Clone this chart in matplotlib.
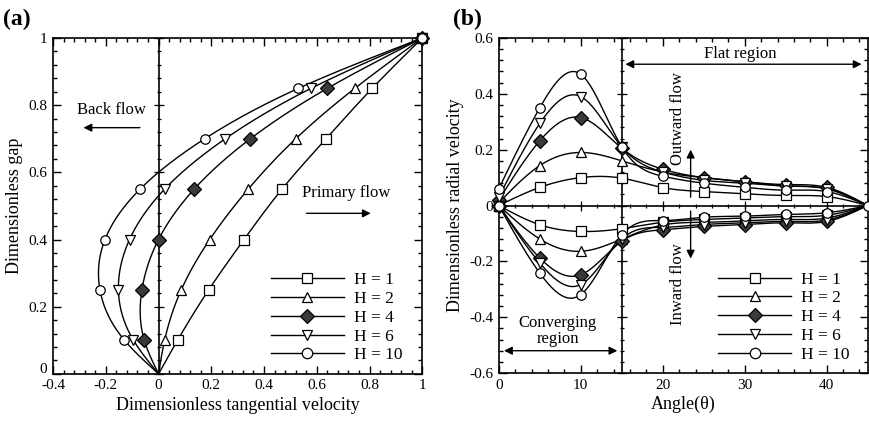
import numpy as np
import matplotlib
matplotlib.use("Agg")
import matplotlib.pyplot as plt
from matplotlib.ticker import MultipleLocator

plt.rcParams['font.family'] = ['Liberation Serif', 'DejaVu Serif']
plt.rcParams['mathtext.fontset'] = 'stix'

# ---- data: panel (a) tangential velocity profiles ----
gap = [0.0, 0.1, 0.25, 0.4, 0.55, 0.7, 0.85, 1.0]
vt_h1 = [0.0, 0.072, 0.19, 0.324, 0.468, 0.635, 0.81, 1.0]
vt_h2 = [0.0, 0.023, 0.086, 0.194, 0.34, 0.52, 0.744, 1.0]
vt_h4 = [0.0, -0.054, -0.063, 0.0, 0.135, 0.348, 0.64, 1.0]
vt_h6 = [0.0, -0.095, -0.152, -0.11, 0.023, 0.253, 0.578, 1.0]
vt_h10 = [0.0, -0.129, -0.222, -0.203, -0.07, 0.175, 0.53, 1.0]

# ---- data: panel (b) radial velocity vs angle ----
angle = [0, 5, 10, 15, 20, 25, 30, 35, 40, 45]
vr_up_h1 = [0.0, 0.065, 0.10, 0.098, 0.064, 0.05, 0.042, 0.036, 0.032, 0.0]
vr_up_h2 = [0.01, 0.143, 0.19, 0.16, 0.12, 0.10, 0.085, 0.07, 0.06, 0.0]
vr_up_h4 = [0.02, 0.232, 0.315, 0.205, 0.13, 0.10, 0.085, 0.075, 0.065, 0.0]
vr_up_h6 = [0.03, 0.294, 0.39, 0.21, 0.12, 0.09, 0.08, 0.07, 0.06, 0.0]
vr_up_h10 = [0.06, 0.35, 0.47, 0.21, 0.105, 0.08, 0.065, 0.055, 0.05, 0.0]

vr_dn_h1 = [0.0, -0.069, -0.093, -0.083, -0.06, -0.05, -0.045, -0.04, -0.035, 0.0]
vr_dn_h2 = [0.0, -0.12, -0.164, -0.12, -0.07, -0.06, -0.055, -0.05, -0.045, 0.0]
vr_dn_h4 = [0.0, -0.188, -0.248, -0.128, -0.087, -0.075, -0.068, -0.062, -0.057, 0.0]
vr_dn_h6 = [0.0, -0.206, -0.283, -0.12, -0.078, -0.068, -0.062, -0.057, -0.052, 0.0]
vr_dn_h10 = [0.0, -0.242, -0.319, -0.105, -0.054, -0.042, -0.038, -0.032, -0.026, 0.0]

labels = ['H = 1', 'H = 2', 'H = 4', 'H = 6', 'H = 10']
markers = ['s', '^', 'D', 'v', 'o']
faces = ['white', 'white', '#3a3a3a', 'white', 'white']


def spline(t, v, n=200):
    # natural cubic spline through the points, used only to draw the smooth connecting line
    t = np.asarray(t, float)
    v = np.asarray(v, float)
    k = len(t)
    h = np.diff(t)
    A = np.zeros((k, k))
    b = np.zeros(k)
    A[0, 0] = A[-1, -1] = 1
    for i in range(1, k - 1):
        A[i, i - 1] = h[i - 1]
        A[i, i] = 2 * (h[i - 1] + h[i])
        A[i, i + 1] = h[i]
        b[i] = 6 * ((v[i + 1] - v[i]) / h[i] - (v[i] - v[i - 1]) / h[i - 1])
    M = np.linalg.solve(A, b)
    tt = np.linspace(t[0], t[-1], n)
    idx = np.clip(np.searchsorted(t, tt) - 1, 0, k - 2)
    t0, t1 = t[idx], t[idx + 1]
    hh = t1 - t0
    a = (t1 - tt) / hh
    c = (tt - t0) / hh
    vv = (a * v[idx] + c * v[idx + 1]
          + ((a ** 3 - a) * M[idx] + (c ** 3 - c) * M[idx + 1]) * hh ** 2 / 6)
    return tt, vv


def inner_ticks(ax, pos, major, minor, vertical):
    # tick marks drawn along an interior reference line
    for step, size in ((major, 7), (minor, 3.5)):
        vals = np.arange(pos[0], pos[1] + 1e-9, step)
        if vertical:
            ax.plot(np.full_like(vals, pos[2]), vals, ls='none', marker='_',
                    ms=size, mew=0.9, color='black', zorder=2, clip_on=False)
        else:
            ax.plot(vals, np.full_like(vals, pos[2]), ls='none', marker='|',
                    ms=size, mew=0.9, color='black', zorder=2, clip_on=False)


def style_axes(ax):
    ax.tick_params(which='both', direction='in', top=True, right=True,
                   labelsize=11, width=1, pad=4)
    ax.tick_params(which='major', length=6)
    ax.tick_params(which='minor', length=3)
    for s in ax.spines.values():
        s.set_linewidth(1.2)


fig = plt.figure(figsize=(8.69, 4.22), dpi=100)
ax1 = fig.add_axes([0.061, 0.114, 0.425, 0.796])
ax2 = fig.add_axes([0.574, 0.116, 0.4245, 0.794])

# ===== panel (a) =====
series_a = [vt_h1, vt_h2, vt_h4, vt_h6, vt_h10]
for vals, m, fc, lab in zip(series_a, markers, faces, labels):
    yy, xx = spline(gap, vals)
    ax1.plot(xx, yy, color='black', lw=1.0, zorder=3)
    ax1.plot(vals[1:], gap[1:], ls='none', marker=m, ms=6.8, mfc=fc,
             mec='black', mew=0.9, zorder=4, clip_on=False)
    ax1.plot([], [], color='black', lw=1.0, marker=m, ms=7.5, mfc=fc,
             mec='black', mew=0.9, label=lab)

ax1.axvline(0, color='black', lw=1.2, zorder=2)
inner_ticks(ax1, (0, 1, 0), 0.2, 0.04, True)
ax1.set_xlim(-0.4, 1)
ax1.set_ylim(0, 1)
ax1.xaxis.set_major_locator(MultipleLocator(0.2))
ax1.xaxis.set_minor_locator(MultipleLocator(0.04))
ax1.yaxis.set_major_locator(MultipleLocator(0.2))
ax1.yaxis.set_minor_locator(MultipleLocator(0.04))
ax1.xaxis.set_major_formatter(plt.FuncFormatter(lambda v, p: f'{v:g}'))
# the corner "0" is drawn separately, a bit higher, as in the original
ax1.yaxis.set_major_formatter(plt.FuncFormatter(lambda v, p: '' if abs(v) < 1e-9 else f'{v:g}'))
style_axes(ax1)
ax1.text(-0.015, 0.014, '0', transform=ax1.transAxes, ha='right', va='center',
         fontsize=11)
ax1.set_xlabel('Dimensionless tangential velocity', fontsize=13, labelpad=3)
ax1.set_ylabel('Dimensionless gap', fontsize=13, labelpad=4)

ax1.text(-0.177, 0.785, 'Back flow', ha='center', va='center', fontsize=12)
ax1.annotate('', xy=(-0.295, 0.733), xytext=(-0.06, 0.733),
             arrowprops=dict(arrowstyle='-|>', color='black', lw=1.0,
                             mutation_scale=12))
ax1.text(0.71, 0.538, 'Primary flow', ha='center', va='center', fontsize=12)
ax1.annotate('', xy=(0.815, 0.478), xytext=(0.55, 0.478),
             arrowprops=dict(arrowstyle='-|>', color='black', lw=1.0,
                             mutation_scale=12))

leg_kw = dict(loc='lower right', frameon=False, fontsize=12.5,
              handlelength=4.2, labelspacing=0.15, handletextpad=0.6,
              borderaxespad=0.2)
ax1.legend(bbox_to_anchor=(0.975, 0.0), **leg_kw)

# ===== panel (b) =====
series_up = [vr_up_h1, vr_up_h2, vr_up_h4, vr_up_h6, vr_up_h10]
series_dn = [vr_dn_h1, vr_dn_h2, vr_dn_h4, vr_dn_h6, vr_dn_h10]
for up, dn, m, fc, lab in zip(series_up, series_dn, markers, faces, labels):
    for vals in (up, dn):
        xx, yy = spline(angle, vals, 400)
        ax2.plot(xx, yy, color='black', lw=1.0, zorder=3)
        ax2.plot(angle[:-1], vals[:-1], ls='none', marker=m, ms=6.8, mfc=fc,
                 mec='black', mew=0.9, zorder=4, clip_on=False)
    ax2.plot([], [], color='black', lw=1.0, marker=m, ms=7.5, mfc=fc,
             mec='black', mew=0.9, label=lab)
ax2.plot([45], [0], ls='none', marker='o', ms=6.8, mfc='white', mec='black',
         mew=0.9, zorder=4, clip_on=False)

ax2.axvline(15, color='black', lw=1.2, zorder=2)
ax2.axhline(0, color='black', lw=1.2, zorder=2)
inner_ticks(ax2, (0, 45, 0), 10, 2, False)
inner_ticks(ax2, (-0.6, 0.6, 15), 0.2, 0.04, True)
ax2.set_xlim(0, 45)
ax2.set_ylim(-0.6, 0.6)
ax2.xaxis.set_major_locator(MultipleLocator(10))
ax2.xaxis.set_minor_locator(MultipleLocator(2))
ax2.yaxis.set_major_locator(MultipleLocator(0.2))
ax2.yaxis.set_minor_locator(MultipleLocator(0.04))
ax2.xaxis.set_major_formatter(plt.FuncFormatter(lambda v, p: f'{v:g}'))
ax2.yaxis.set_major_formatter(plt.FuncFormatter(lambda v, p: f'{v:g}'))
style_axes(ax2)
ax2.set_xlabel('Angle(θ)', fontsize=13, labelpad=3)
ax2.set_ylabel('Dimensionless radial velocity', fontsize=13, labelpad=4)

ax2.text(29.4, 0.544, 'Flat region', ha='center', va='center', fontsize=12)
ax2.annotate('', xy=(44.6, 0.506), xytext=(15.1, 0.506),
             arrowprops=dict(arrowstyle='<|-|>', color='black', lw=1.0,
                             mutation_scale=12))
ax2.text(7.2, -0.45, 'Converging\nregion', ha='center', va='center',
         fontsize=12, linespacing=1.0)
ax2.annotate('', xy=(14.8, -0.52), xytext=(0.3, -0.52),
             arrowprops=dict(arrowstyle='<|-|>', color='black', lw=1.0,
                             mutation_scale=12))
ax2.text(21.9, 0.31, 'Outward flow', ha='center', va='center', fontsize=12,
         rotation=90)
ax2.annotate('', xy=(23.4, 0.21), xytext=(23.4, 0.02),
             arrowprops=dict(arrowstyle='-|>', color='black', lw=1.0,
                             mutation_scale=12))
ax2.text(21.9, -0.28, 'Inward flow', ha='center', va='center', fontsize=12,
         rotation=90)
ax2.annotate('', xy=(23.4, -0.2), xytext=(23.4, -0.01),
             arrowprops=dict(arrowstyle='-|>', color='black', lw=1.0,
                             mutation_scale=12))

ax2.legend(bbox_to_anchor=(0.98, 0.0), **leg_kw)

fig.text(0.004, 0.955, '(a)', fontsize=17, fontweight='bold', va='center')
fig.text(0.521, 0.955, '(b)', fontsize=17, fontweight='bold', va='center')

fig.savefig('out.png', dpi=100)
